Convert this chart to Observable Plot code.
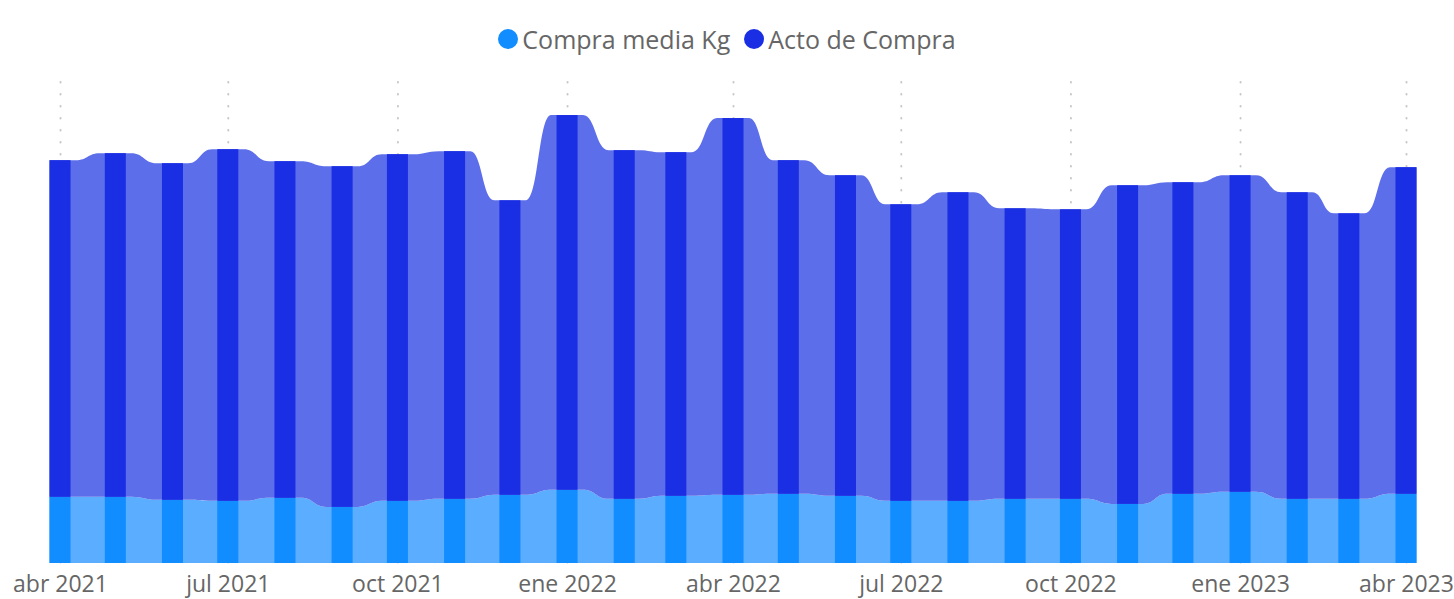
<!DOCTYPE html>
<html>
<head>
<meta charset="utf-8">
<script src="https://cdn.jsdelivr.net/npm/d3@7"></script>
<script src="https://cdn.jsdelivr.net/npm/@observablehq/plot@0.6"></script>
<style>
  html, body { margin: 0; padding: 0; background: #fff; }
  body { font-family: "Open Sans", sans-serif; width: 1454px; height: 599px; overflow: hidden; }
  #legend { height: 64px; box-sizing: border-box; padding-top: 14px; display: flex; justify-content: center; align-items: center; }
  #legend .inner { display: flex; align-items: center; height: 50px; font-size: 25px; color: #666; }
  .item { display: flex; align-items: center; margin: 0 7px; }
  .dot { width: 20px; height: 20px; border-radius: 50%; margin-right: 4px; }
</style>
</head>
<body>
<div id="legend"><div class="inner"></div></div>
<div id="chart"></div>
<script>
// ---- Data ----
const months = [
  "2021-04-01","2021-05-01","2021-06-01","2021-07-01","2021-08-01","2021-09-01",
  "2021-10-01","2021-11-01","2021-12-01","2022-01-01","2022-02-01","2022-03-01",
  "2022-04-01","2022-05-01","2022-06-01","2022-07-01","2022-08-01","2022-09-01",
  "2022-10-01","2022-11-01","2022-12-01","2023-01-01","2023-02-01","2023-03-01",
  "2023-04-01"
];
const compraMediaKg = [
  3.30, 3.30, 3.15, 3.10, 3.25, 2.80, 3.10, 3.20, 3.40, 3.65, 3.20, 3.35,
  3.40, 3.45, 3.35, 3.10, 3.10, 3.20, 3.20, 2.95, 3.45, 3.55, 3.20, 3.20, 3.45
];
const actoDeCompra = [
  16.80, 17.15, 16.80, 17.55, 16.80, 17.00, 17.30, 17.35, 14.70, 18.70, 17.40, 17.15,
  18.80, 16.65, 16.00, 14.80, 15.40, 14.50, 14.45, 15.90, 15.55, 15.80, 15.30, 14.25, 16.30
];
const tickMonths = [
  "2021-04-01","2021-07-01","2021-10-01","2022-01-01","2022-04-01",
  "2022-07-01","2022-10-01","2023-01-01","2023-04-01"
];
const monthNames = ["ene","feb","mar","abr","may","jun","jul","ago","sep","oct","nov","dic"];
const seriesNames = ["Compra media Kg", "Acto de Compra"];
const barColors = ["#118DFF", "#1A2EE3"];
const ribbonColors = ["#5AADFF", "#5D6EEA"];

// ---- Legend ----
const inner = document.querySelector("#legend .inner");
seriesNames.forEach((name, i) => {
  const it = document.createElement("div");
  it.className = "item";
  const dot = document.createElement("span");
  dot.className = "dot";
  dot.style.background = barColors[i];
  const t = document.createElement("span");
  t.textContent = name;
  it.appendChild(dot); it.appendChild(t);
  inner.appendChild(it);
});

// ---- Build marks data ----
const DAY = 864e5;
const hw = 5.7 * DAY;       // half bar width in time units
const flat = 0.15;          // flat fraction of ribbon gap at each end
const dates = months.map(s => new Date(s));
const n = dates.length;
const bars = [];
const ribbon = [];
seriesNames.forEach((name, si) => {
  dates.forEach((d, i) => {
    const lo = si === 0 ? 0 : compraMediaKg[i];
    const hi = si === 0 ? compraMediaKg[i] : compraMediaKg[i] + actoDeCompra[i];
    bars.push({series: name, x1: new Date(+d - hw), x2: new Date(+d + hw), y1: lo, y2: hi, fill: barColors[si]});
    const xs = [];
    if (i > 0) { const gap = (d - dates[i - 1]) - 2 * hw; xs.push(+d - hw - flat * gap); }
    xs.push(+d - hw, +d + hw);
    if (i < n - 1) { const gap = (dates[i + 1] - d) - 2 * hw; xs.push(+d + hw + flat * gap); }
    xs.forEach(x => ribbon.push({series: name, x: new Date(x), y1: lo, y2: hi, fill: ribbonColors[si]}));
  });
});
const ticks = tickMonths.map(s => new Date(s));

const chart = Plot.plot({
  width: 1454,
  height: 535,
  marginLeft: 60,
  marginRight: 48,
  marginTop: 18,
  marginBottom: 36,
  style: {fontFamily: "'Open Sans', sans-serif", background: "#fff", overflow: "visible"},
  x: {type: "utc", domain: [dates[0], dates[n - 1]]},
  y: {domain: [0, 24], axis: null},
  color: {type: "identity"},
  marks: [
    Plot.ruleX(ticks, {x: d => d, y1: 24, y2: 0, stroke: "#c8c8c8", strokeWidth: 2,
      strokeDasharray: "0.5 11.5", strokeLinecap: "round", insetBottom: -3}),
    Plot.areaY(ribbon, {x: "x", y1: "y1", y2: "y2", z: "series", fill: "fill", curve: "bump-x"}),
    Plot.rect(bars, {x1: "x1", x2: "x2", y1: "y1", y2: "y2", fill: "fill"}),
    Plot.axisX({ticks, tickFormat: d => monthNames[d.getUTCMonth()] + " " + d.getUTCFullYear(),
      tickSize: 0, tickPadding: 12, fontSize: 23, fill: "#666"})
  ]
});
document.getElementById("chart").appendChild(chart);
</script>
</body>
</html>
